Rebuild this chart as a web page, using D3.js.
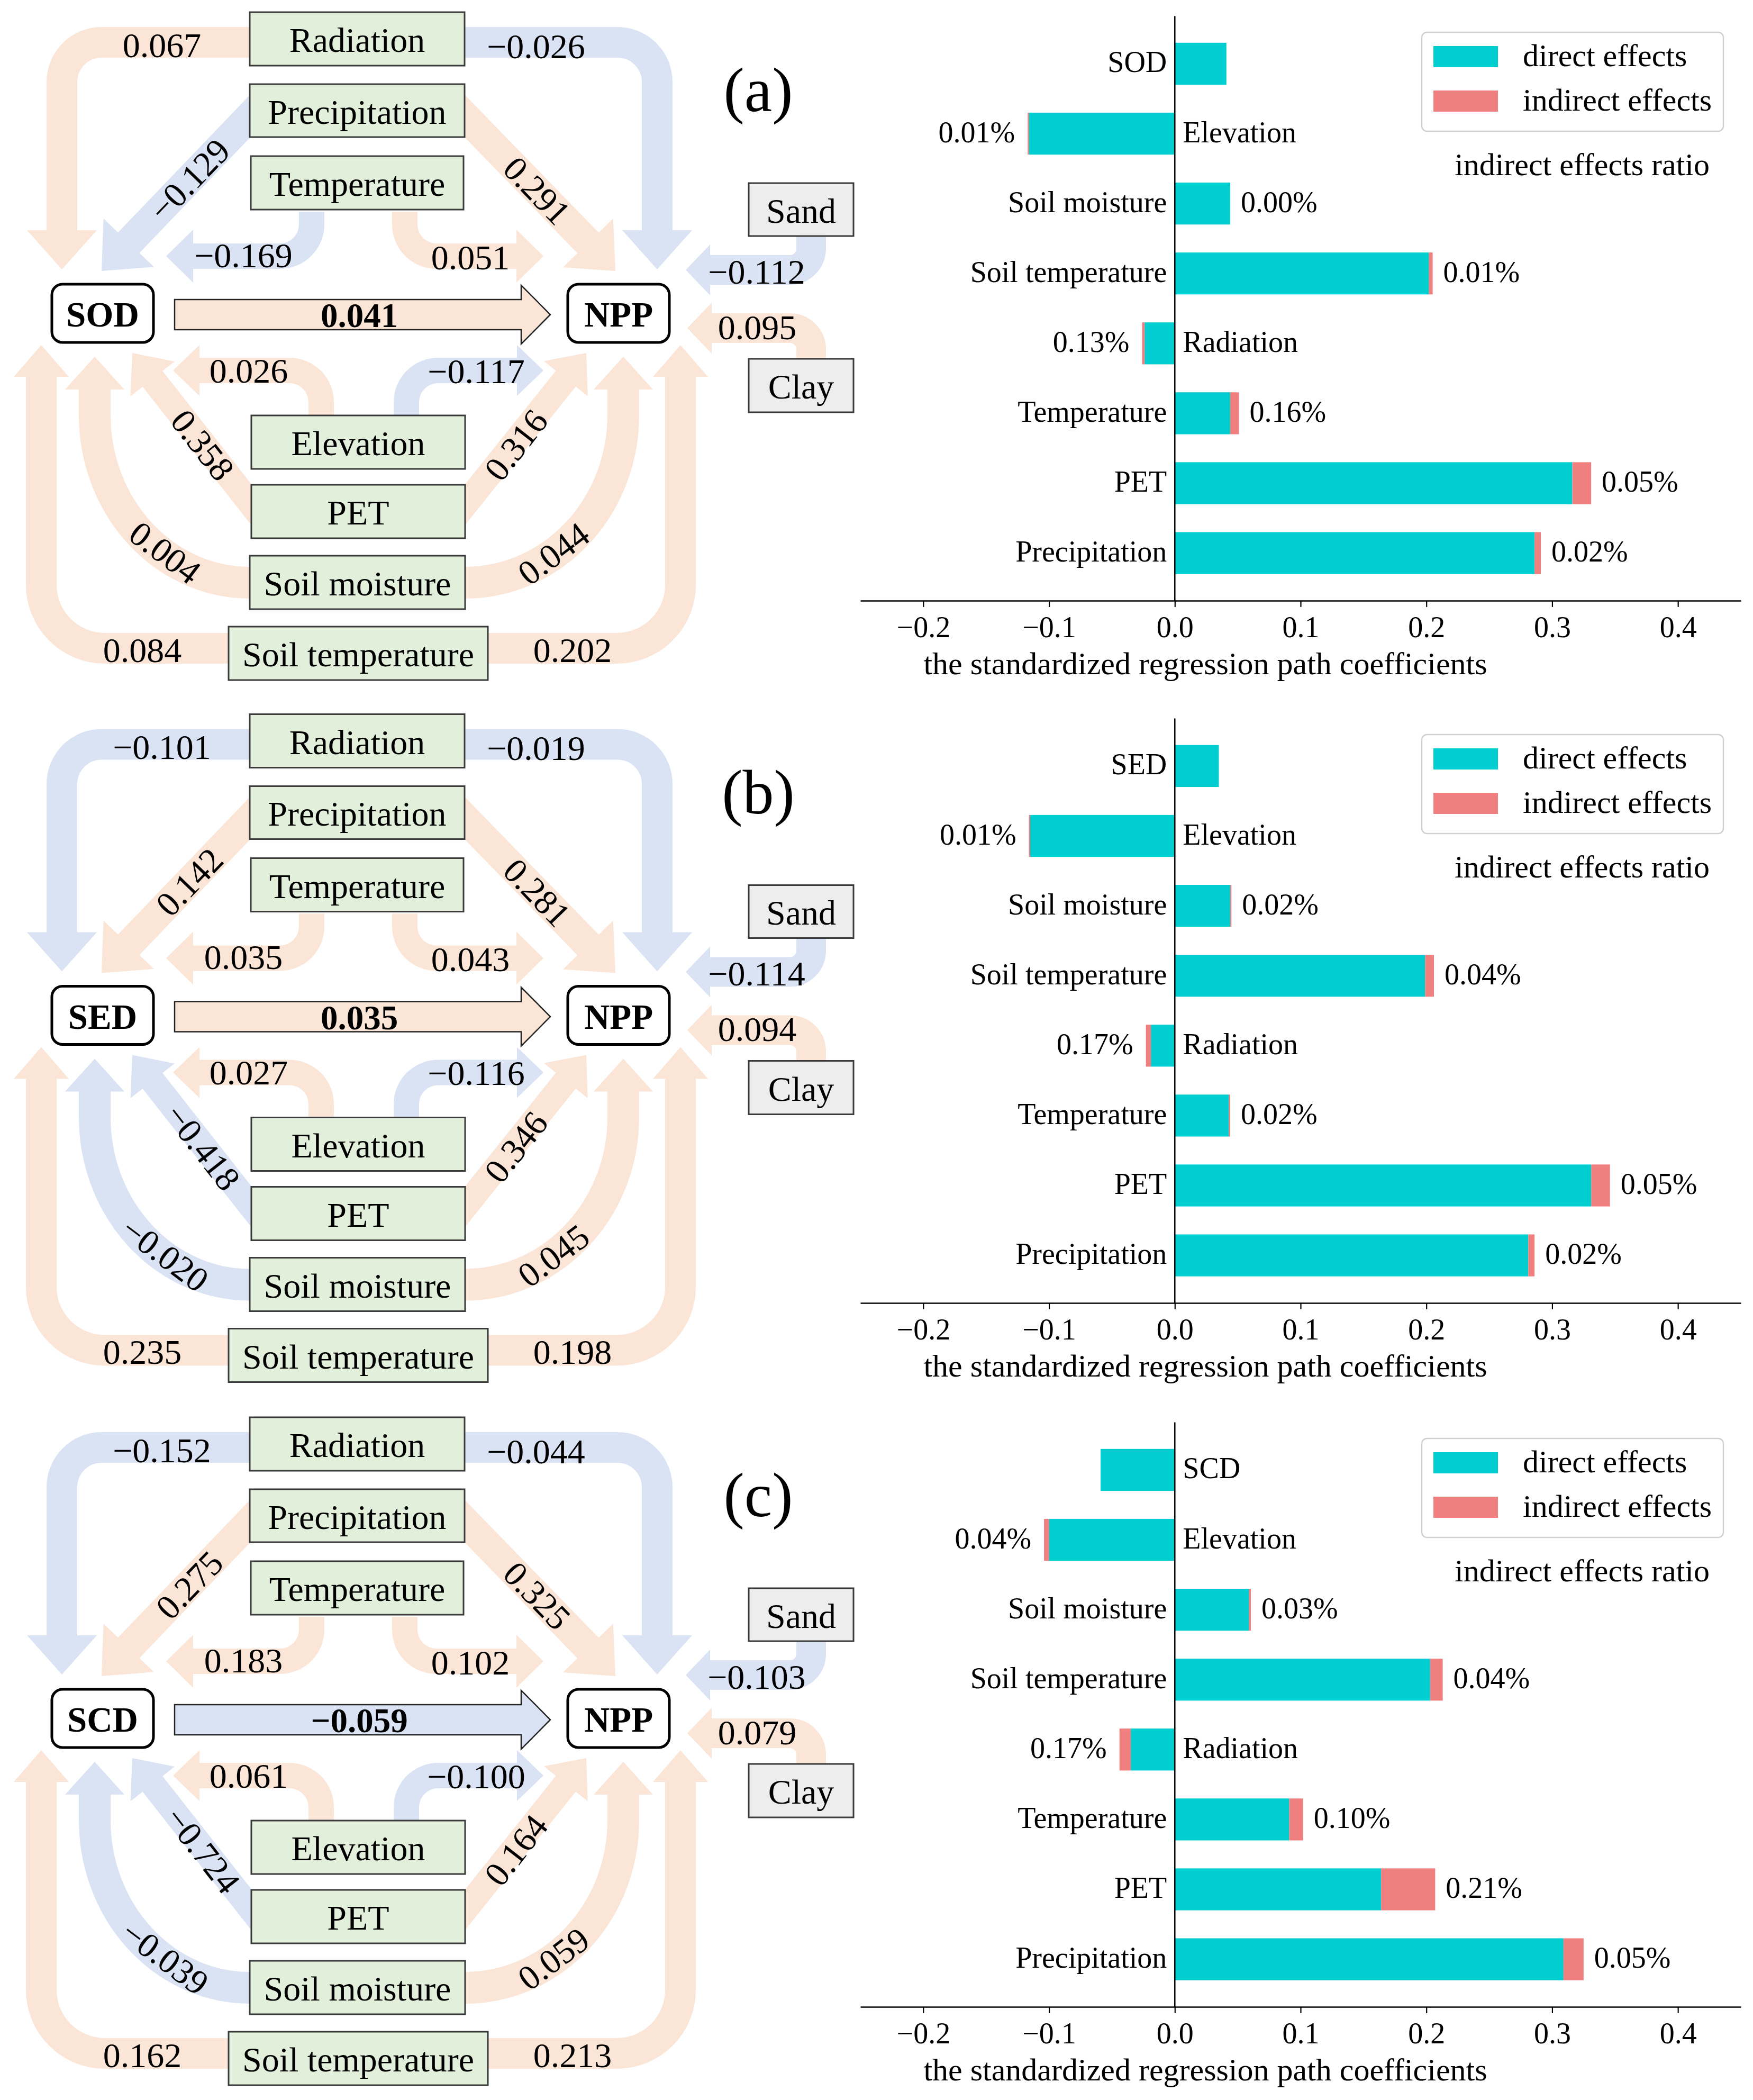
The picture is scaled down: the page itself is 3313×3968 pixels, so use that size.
<!DOCTYPE html>
<html><head><meta charset="utf-8">
<script src="https://cdn.jsdelivr.net/npm/d3@7"></script>
<style>body{margin:0;background:#fff}svg{display:block}</style>
</head><body>
<svg id="c" width="3313" height="3968"></svg>
<script>
// ---------------- DATA ----------------
const panelTags = ["(a)", "(b)", "(c)"];
const responses = ["SOD", "SED", "SCD"];
const mainCoef = [0.041, 0.035, -0.059];
// path order: Radiation→R, Radiation→NPP, Precipitation→R, Precipitation→NPP, Temperature→R, Temperature→NPP,
// Sand→NPP, Clay→NPP, Elevation→R, Elevation→NPP, PET→R, PET→NPP, Soil moisture→R, Soil moisture→NPP,
// Soil temperature→R, Soil temperature→NPP
const coefA = [0.067, -0.026, -0.129, 0.291, -0.169, 0.051, -0.112, 0.095, 0.026, -0.117, 0.358, 0.316, 0.004, 0.044, 0.084, 0.202];
const coefB = [-0.101, -0.019, 0.142, 0.281, 0.035, 0.043, -0.114, 0.094, 0.027, -0.116, -0.418, 0.346, -0.020, 0.045, 0.235, 0.198];
const coefC = [-0.152, -0.044, 0.275, 0.325, 0.183, 0.102, -0.103, 0.079, 0.061, -0.100, -0.724, 0.164, -0.039, 0.059, 0.162, 0.213];
const climateBoxes = ["Radiation", "Precipitation", "Temperature", "Elevation", "PET", "Soil moisture", "Soil temperature"];
const soilBoxes = ["Sand", "Clay"];

const barCatsTail = ["Elevation", "Soil moisture", "Soil temperature", "Radiation", "Temperature", "PET", "Precipitation"];
const directA = [0.041, -0.116, 0.044, 0.202, -0.024, 0.044, 0.316, 0.286];
const indirectA = [0, -0.001, 0, 0.003, -0.002, 0.007, 0.015, 0.005];
const ratioA = ["", "0.01%", "0.00%", "0.01%", "0.13%", "0.16%", "0.05%", "0.02%"];
const directB = [0.035, -0.115, 0.044, 0.199, -0.019, 0.043, 0.331, 0.281];
const indirectB = [0, -0.001, 0.001, 0.007, -0.004, 0.001, 0.015, 0.005];
const ratioB = ["", "0.01%", "0.02%", "0.04%", "0.17%", "0.02%", "0.05%", "0.02%"];
const directC = [-0.059, -0.100, 0.059, 0.203, -0.035, 0.091, 0.164, 0.309];
const indirectC = [0, -0.004, 0.0015, 0.010, -0.009, 0.011, 0.043, 0.016];
const ratioC = ["", "0.04%", "0.03%", "0.04%", "0.17%", "0.10%", "0.21%", "0.05%"];
const xTicks = [-0.2, -0.1, 0.0, 0.1, 0.2, 0.3, 0.4];
const xLabel = "the standardized regression path coefficients";
const legendLabels = ["direct effects", "indirect effects"];
const ratioTitle = "indirect effects ratio";

// ---------------- STYLE / LAYOUT ----------------
const FONT = '"Liberation Serif","Times New Roman",Times,serif';
const POS = "#fbe5d6", NEG = "#dae3f3";
const CYAN = "#00ced1", PINK = "#f08080";
const signColor = d3.scaleThreshold().domain([0]).range([NEG, POS]);
const fmt = v => (v < 0 ? "\u2212" : "") + Math.abs(v).toFixed(3);
const diagOff = [0, 1326.5, 2655];
const barOff = [0, 1327, 2657];
const coefs = [coefA, coefB, coefC];
const directs = [directA, directB, directC];
const indirects = [indirectA, indirectB, indirectC];
const ratios = [ratioA, ratioB, ratioC];

const svg = d3.select("#c");
svg.append("rect").attr("width", 3313).attr("height", 3968).attr("fill", "#fff");

// box geometry (diagram)
const boxGeom = {
  "Radiation": [472, 23, 406, 101], "Precipitation": [472, 159, 406, 100], "Temperature": [474, 295, 402, 101],
  "Elevation": [475, 785, 404, 101], "PET": [475, 916, 404, 101], "Soil moisture": [472, 1050, 407, 101],
  "Soil temperature": [432, 1184, 490, 101], "Sand": [1415, 346, 198, 100], "Clay": [1415, 678, 198, 101]
};
// arrow geometry per path index
const DN = [0, 1], UP = [0, -1], LF = [-1, 0], RT = [1, 0];
const arrowGeom = [
  {d: "M 480 80 H 192 A 75 75 0 0 0 117 155 V 437", w: 58, tip: [117, 509], dir: DN, len: 74, half: 66, lab: [306, 85, 0]},
  {d: "M 870 80 H 1167 A 75 75 0 0 1 1242 155 V 437", w: 58, tip: [1242, 509], dir: DN, len: 74, half: 66, lab: [1013, 87, 0]},
  {straight: [474, 218], w: 56, tip: [192, 512], len: 74, half: 66, lab: [358, 340, -46]},
  {straight: [877, 218], w: 56, tip: [1163, 512], len: 74, half: 66, lab: [1015, 360, 46]},
  {d: "M 589 400 V 424 A 60 60 0 0 1 529 484 H 364", w: 48, tip: [314, 484], dir: LF, len: 51, half: 50, lab: [460, 482, 0]},
  {d: "M 765 400 V 424 A 60 60 0 0 0 825 484 H 977", w: 48, tip: [1027, 484], dir: RT, len: 51, half: 50, lab: [889, 486, 0]},
  {d: "M 1533 440 V 470 A 40 40 0 0 1 1493 510 H 1341", w: 56, tip: [1296, 510], dir: LF, len: 46, half: 48, lab: [1430, 513, 0]},
  {d: "M 1533 685 V 660 A 40 40 0 0 0 1493 620 H 1344", w: 56, tip: [1299, 620], dir: LF, len: 46, half: 48, lab: [1431, 618, 0]},
  {d: "M 607 790 V 760 A 60 60 0 0 0 547 700 H 376", w: 48, tip: [327, 700], dir: LF, len: 50, half: 48, lab: [470, 700, 0]},
  {d: "M 768 790 V 760 A 60 60 0 0 1 828 700 H 978", w: 48, tip: [1027, 700], dir: RT, len: 50, half: 48, lab: [900, 701, 0]},
  {straight: [477, 956], w: 48, tip: [250, 667], len: 62, half: 53, lab: [383, 841, 52]},
  {straight: [877, 956], w: 48, tip: [1108, 667], len: 62, half: 53, lab: [975, 841, -52]},
  {d: "M 480 1101 H 472 A 293 317 0 0 1 179 784 V 735", w: 60, tip: [179, 674], dir: UP, len: 62, half: 56, lab: [312, 1044, 37]},
  {d: "M 870 1101 H 879 A 299 317 0 0 0 1178 784 V 735", w: 60, tip: [1178, 674], dir: UP, len: 62, half: 56, lab: [1046, 1046, -37]},
  {d: "M 440 1225 H 198 A 120 120 0 0 1 78 1105 V 711", w: 58, tip: [78, 652], dir: UP, len: 60, half: 52, lab: [269, 1228, 0]},
  {d: "M 914 1225 H 1166 A 120 120 0 0 0 1286 1105 V 711", w: 58, tip: [1286, 652], dir: UP, len: 60, half: 52, lab: [1082, 1228, 0]}
];

function headPts(tip, u, len, half) {
  const n = [-u[1], u[0]];
  const b = [tip[0] - len * u[0], tip[1] - len * u[1]];
  return [[b[0] + half * n[0], b[1] + half * n[1]], tip, [b[0] - half * n[0], b[1] - half * n[1]]];
}
function straightPts(s, tip, w, len, half) {
  let u = [tip[0] - s[0], tip[1] - s[1]];
  const L = Math.hypot(u[0], u[1]); u = [u[0] / L, u[1] / L];
  const n = [-u[1], u[0]];
  const b = [tip[0] - len * u[0], tip[1] - len * u[1]];
  const edge = o => { const t = -(o * n[0]) / u[0]; return [s[0] + o * n[0] + t * u[0], s[1] + o * n[1] + t * u[1]]; };
  const h = w / 2;
  return [edge(h), [b[0] + h * n[0], b[1] + h * n[1]], [b[0] + half * n[0], b[1] + half * n[1]], tip,
          [b[0] - half * n[0], b[1] - half * n[1]], [b[0] - h * n[0], b[1] - h * n[1]], edge(-h)];
}
const line = d3.line();

function diagram(p) {
  const g = svg.append("g").attr("transform", `translate(0,${diagOff[p]})`);
  const cf = coefs[p];
  const ag = g.append("g");
  arrowGeom.forEach((a, k) => {
    const col = signColor(cf[k]);
    if (a.straight) {
      ag.append("path").attr("d", line(straightPts(a.straight, a.tip, a.w, a.len, a.half)) + "Z").attr("fill", col);
    } else {
      ag.append("path").attr("d", a.d).attr("fill", "none").attr("stroke", col).attr("stroke-width", a.w);
      ag.append("path").attr("d", line(headPts(a.tip, a.dir, a.len, a.half)) + "Z").attr("fill", col);
    }
  });
  const mp = [[330, 566], [985, 566], [985, 539], [1040, 594.5], [985, 650], [985, 623], [330, 623]];
  g.append("path").attr("d", line(mp) + "Z").attr("fill", signColor(mainCoef[p])).attr("stroke", "#222").attr("stroke-width", 2.5);
  g.append("text").attr("x", 679).attr("y", 596).text(fmt(mainCoef[p]))
    .attr("font-family", FONT).attr("font-size", 65).attr("font-weight", "bold").attr("text-anchor", "middle").attr("dominant-baseline", "central");
  climateBoxes.concat(soilBoxes).forEach(name => {
    const [x, y, w, h] = boxGeom[name];
    const soil = soilBoxes.includes(name);
    g.append("rect").attr("x", x).attr("y", y).attr("width", w).attr("height", h)
      .attr("fill", soil ? "#ededed" : "#e2efda").attr("stroke", "#3a3a3a").attr("stroke-width", 3);
    g.append("text").attr("x", x + w / 2).attr("y", y + h / 2 + 2).text(name)
      .attr("font-family", FONT).attr("font-size", 66).attr("text-anchor", "middle").attr("dominant-baseline", "central");
  });
  [[98, responses[p]], [1073, "NPP"]].forEach(([x, name]) => {
    g.append("rect").attr("x", x).attr("y", 537).attr("width", 192).attr("height", 110).attr("rx", 20)
      .attr("fill", "#fff").attr("stroke", "#000").attr("stroke-width", 5);
    g.append("text").attr("x", x + 96).attr("y", 594).text(name)
      .attr("font-family", FONT).attr("font-size", 67).attr("font-weight", "bold").attr("text-anchor", "middle").attr("dominant-baseline", "central");
  });
  arrowGeom.forEach((a, k) => {
    const [lx, ly, rot] = a.lab;
    g.append("text").attr("transform", `translate(${lx},${ly}) rotate(${rot})`).text(fmt(cf[k]))
      .attr("font-family", FONT).attr("font-size", 66).attr("text-anchor", "middle").attr("dominant-baseline", "central");
  });
  g.append("text").attr("x", 1433).attr("y", 210).text(panelTags[p])
    .attr("font-family", FONT).attr("font-size", 118).attr("text-anchor", "middle");
}

function barChart(p) {
  const oy = barOff[p];
  const x = d3.scaleLinear().domain([-0.25, 0.45]).range([1626, 3290]);
  const y = d3.scaleLinear().domain([-0.68, 7.68]).range([30.6 + oy, 1134.9 + oy]);
  const g = svg.append("g");
  const cats = [responses[p]].concat(barCatsTail);
  const dir = directs[p], ind = indirects[p], rat = ratios[p];
  const bh = y(0.3) - y(-0.3);
  g.selectAll("rect.d").data(cats).join("rect").attr("class", "d")
    .attr("x", (d, k) => x(Math.min(0, dir[k]))).attr("width", (d, k) => Math.abs(x(dir[k]) - x(0)))
    .attr("y", (d, k) => y(k) - bh / 2).attr("height", bh).attr("fill", CYAN);
  g.selectAll("rect.i").data(cats).join("rect").attr("class", "i")
    .attr("x", (d, k) => x(Math.min(dir[k], dir[k] + ind[k]))).attr("width", (d, k) => Math.abs(x(dir[k] + ind[k]) - x(dir[k])))
    .attr("y", (d, k) => y(k) - bh / 2).attr("height", bh).attr("fill", PINK);
  const ax = g.append("g").attr("transform", `translate(0,${y(7.68)})`)
    .call(d3.axisBottom(x).tickValues(xTicks).tickSize(12).tickSizeOuter(0)
      .tickFormat(d => d3.format(".1f")(d).replace("-", "\u2212")));
  ax.select(".domain").attr("stroke", "#000").attr("stroke-width", 2.5);
  ax.selectAll(".tick line").attr("stroke", "#000").attr("stroke-width", 2.2);
  ax.selectAll(".tick text").attr("y", 69).attr("dy", null).attr("fill", "#000")
    .attr("font-family", FONT).attr("font-size", 56);
  g.append("line").attr("x1", x(0)).attr("x2", x(0)).attr("y1", y(-0.68)).attr("y2", y(7.68))
    .attr("stroke", "#000").attr("stroke-width", 2.5);
  g.selectAll("text.cat").data(cats).join("text").attr("class", "cat")
    .attr("x", (d, k) => dir[k] >= 0 ? x(0) - 15 : x(0) + 15).attr("y", (d, k) => y(k) - 3)
    .attr("text-anchor", (d, k) => dir[k] >= 0 ? "end" : "start").attr("dominant-baseline", "central")
    .attr("font-family", FONT).attr("font-size", 56).text(d => d);
  g.selectAll("text.rat").data(cats).join("text").attr("class", "rat")
    .attr("x", (d, k) => { const t = dir[k] + ind[k]; return t >= 0 ? x(t) + 20 : x(t) - 24; })
    .attr("y", (d, k) => y(k) - 3)
    .attr("text-anchor", (d, k) => dir[k] + ind[k] >= 0 ? "start" : "end").attr("dominant-baseline", "central")
    .attr("font-family", FONT).attr("font-size", 56).text((d, k) => rat[k]);
  g.append("text").attr("x", 2278).attr("y", 1274 + oy).attr("text-anchor", "middle")
    .attr("font-family", FONT).attr("font-size", 60).text(xLabel);
  const lg = g.append("g").attr("transform", `translate(0,${oy})`);
  lg.append("rect").attr("x", 2687).attr("y", 61).attr("width", 570).attr("height", 187).attr("rx", 10)
    .attr("fill", "#fff").attr("stroke", "#d0d0d0").attr("stroke-width", 2.5);
  [CYAN, PINK].forEach((c, k) => {
    lg.append("rect").attr("x", 2709).attr("y", 87 + k * 84).attr("width", 122).attr("height", 40).attr("fill", c);
    lg.append("text").attr("x", 2878).attr("y", 105 + k * 84).attr("dominant-baseline", "central")
      .attr("font-family", FONT).attr("font-size", 60).text(legendLabels[k]);
  });
  lg.append("text").attr("x", 3231).attr("y", 311).attr("text-anchor", "end").attr("dominant-baseline", "central")
    .attr("font-family", FONT).attr("font-size", 60).text(ratioTitle);
}

for (let p = 0; p < 3; p++) { diagram(p); barChart(p); }
</script>
</body></html>
